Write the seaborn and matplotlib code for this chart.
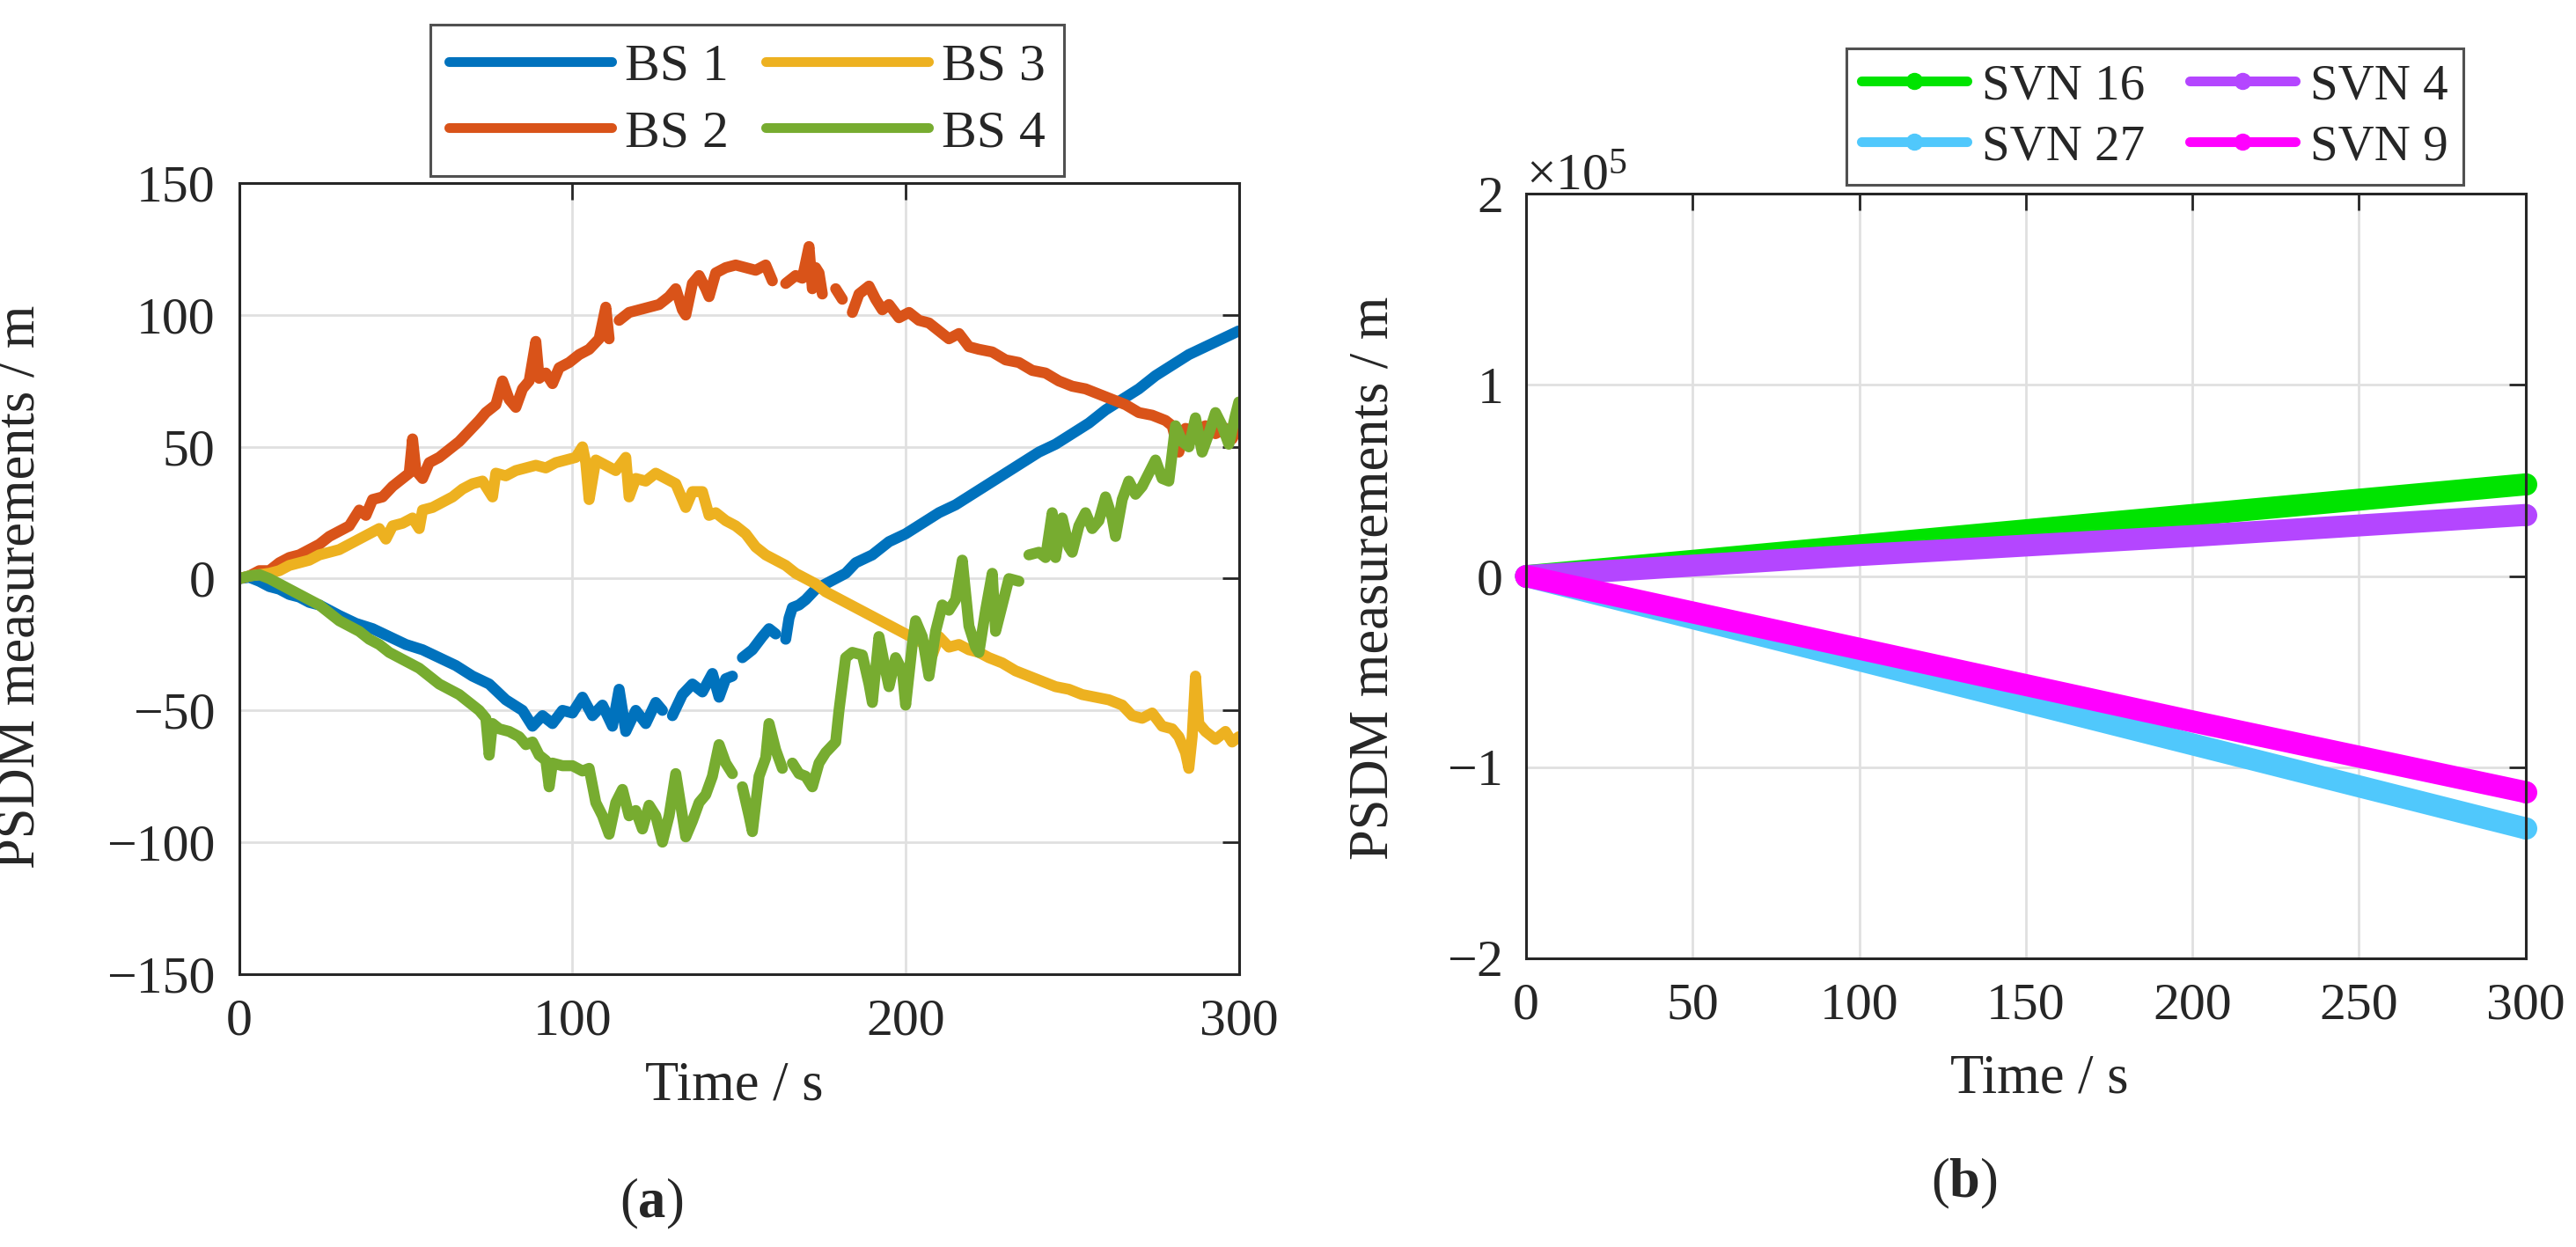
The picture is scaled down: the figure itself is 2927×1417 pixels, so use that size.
import numpy as np
import pandas as pd
import seaborn as sns
import matplotlib.pyplot as plt
from matplotlib.lines import Line2D
from matplotlib.ticker import ScalarFormatter

nan = np.nan

# (a) PSDM measurements of the base stations, (time s, value m), nan = gap
bs1 = [(0, 0), (3, 0.5), (6, -1), (9, -3), (12, -4), (15, -6), (18, -7), (21, -9), (24, -10),
       (27, -12), (30, -14), (35, -17), (40, -19), (45, -22), (50, -25), (55, -27), (60, -30),
       (65, -33), (70, -37), (75, -40), (80, -46), (85, -50), (88, -56), (91, -52), (94, -55),
       (97, -50), (100, -51), (103, -45), (106, -52), (109, -48), (112, -56), (114, -42),
       (116, -58), (119, -50), (122, -55), (125, -47), (127, -50), (128, nan), (130, -52),
       (133, -44), (136, -40), (139, -43), (142, -36), (144, -45), (146, -38), (148, -37),
       (149.5, nan), (151, -30), (154, -27), (157, -22), (159, -19), (161, -21), (162, nan),
       (164, -23), (165, -15), (166, -11), (168, -10), (170, -8), (173, -4), (176, -2),
       (179, 0), (182, 2), (185, 6), (190, 9), (195, 14), (200, 17), (205, 21), (210, 25),
       (215, 28), (220, 32), (225, 36), (230, 40), (235, 44), (240, 48), (245, 51), (250, 55),
       (255, 59), (260, 64), (265, 68), (270, 72), (275, 77), (280, 81), (285, 85), (290, 88),
       (295, 91), (300, 94)]

bs2 = [(0, 0), (3, 1), (6, 3), (9, 3), (12, 6), (15, 8), (18, 9), (21, 11), (24, 13), (27, 16),
       (30, 18), (33, 20), (36, 26), (38, 24), (40, 30), (43, 31), (46, 35), (49, 38), (51, 40),
       (52, 53), (53, 41), (55, 38), (57, 44), (60, 46), (63, 49), (66, 52), (69, 56), (72, 60),
       (74, 63), (77, 66), (79, 75), (81, 68), (83, 65), (85, 72), (87, 75), (89, 90), (90, 76),
       (92, 78), (94, 74), (96, 80), (99, 82), (102, 85), (105, 87), (108, 91), (110, 103),
       (111, 91), (112, nan), (114, 98), (117, 101), (120, 102), (123, 103), (126, 104),
       (129, 107), (131, 110), (133, 102), (134, 100), (136, 112), (138, 115), (140, 110),
       (141, 107), (143, 116), (146, 118), (149, 119), (152, 118), (155, 117), (158, 119),
       (160, 113), (161.5, nan), (164, 112), (167, 115), (169, 114), (171, 126), (172, 110),
       (173, 118), (174, 116), (175, 108), (177, nan), (179, 110), (181, 106), (182, nan),
       (184, 101), (186, 108), (189, 111), (191, 106), (193, 102), (195, 104), (198, 99),
       (201, 101), (204, 98), (207, 97), (210, 94), (213, 91), (216, 93), (219, 88), (222, 87),
       (226, 86), (230, 83), (234, 82), (238, 79), (242, 78), (246, 75), (250, 73), (254, 72),
       (258, 70), (262, 68), (266, 66), (270, 63), (274, 62), (278, 60), (280, 58), (282, 48),
       (284, 57), (287, 56), (290, 58), (293, 55), (296, 57), (298, 53), (300, 58)]

bs3 = [(0, 0), (3, 1), (6, 1.5), (9, 2), (12, 3), (15, 5), (18, 6), (21, 7), (24, 9), (27, 10),
       (30, 11), (33, 13), (36, 15), (39, 17), (42, 19), (44, 15), (46, 20), (49, 21), (52, 23),
       (54, 19), (55, 26), (58, 27), (61, 29), (64, 31), (67, 34), (70, 36), (73, 37), (76, 31),
       (77, 40), (80, 39), (83, 41), (86, 42), (89, 43), (92, 42), (95, 44), (98, 45), (101, 46),
       (103, 50), (104, 44), (105, 30), (107, 45), (110, 43), (113, 41), (116, 46), (117, 31),
       (119, 38), (122, 37), (125, 40), (128, 38), (131, 36), (134, 27), (136, 33), (139, 33),
       (141, 24), (143, 25), (146, 22), (149, 20), (152, 17), (155, 12), (158, 9), (161, 7),
       (164, 5), (167, 2), (170, 0), (173, -2), (176, -5), (179, -7), (182, -9), (185, -11),
       (188, -13), (191, -15), (194, -17), (197, -19), (200, -21), (203, -23), (206, -25),
       (208, -29), (210, -22), (213, -26), (216, -25), (219, -27), (222, -28), (225, -30),
       (229, -32), (233, -35), (237, -37), (241, -39), (245, -41), (249, -42), (253, -44),
       (257, -45), (261, -46), (265, -48), (268, -52), (271, -53), (274, -51), (277, -56),
       (280, -57), (282, -60), (284, -66), (285, -72), (286, -60), (287, -37), (288, -55),
       (290, -58), (293, -61), (296, -58), (298, -62), (300, -60)]

bs4 = [(0, 0), (3, 1), (6, 1.5), (9, 0), (12, -2), (15, -4), (18, -6), (21, -8), (24, -10),
       (27, -13), (30, -16), (33, -18), (36, -20), (39, -23), (42, -25), (45, -28), (48, -30),
       (51, -32), (54, -34), (57, -37), (60, -40), (63, -42), (66, -44), (69, -47), (72, -50),
       (74, -53), (75, -67), (76, -55), (78, -57), (81, -58), (84, -60), (86, -63), (88, -62),
       (90, -67), (92, -69), (93, -79), (94, -70), (97, -71), (100, -71), (103, -73), (105, -72),
       (107, -85), (109, -90), (111, -97), (113, -85), (115, -80), (117, -90), (119, -88),
       (121, -95), (123, -86), (125, -90), (127, -100), (129, -90), (131, -74), (133, -90),
       (134, -98), (136, -92), (138, -85), (140, -82), (142, -75), (144, -63), (146, -70),
       (148, -74), (149, nan), (151, -79), (153, -90), (154, -96), (156, -75), (158, -68),
       (159, -55), (161, -65), (163, -72), (164, nan), (166, -70), (168, -74), (170, -75),
       (172, -79), (174, -70), (176, -66), (179, -62), (180, -50), (182, -30), (184, -28),
       (187, -29), (189, -40), (190, -47), (192, -22), (194, -35), (195, -41), (197, -30),
       (199, -35), (200, -48), (202, -25), (203, -16), (205, -22), (207, -37), (209, -20),
       (211, -10), (213, -12), (215, -8), (217, 7), (219, -18), (221, -26), (222, -28),
       (224, -12), (226, 2), (227, -20), (229, -10), (231, 0), (234, -1), (235.5, nan), (237, 9),
       (240, 10), (242, 8), (244, 25), (245, 8), (247, 23), (249, 12), (250, 10), (252, 20),
       (254, 25), (256, 19), (258, 22), (260, 31), (262, 23), (263, 16), (265, 30), (267, 37),
       (269, 32), (271, 35), (273, 40), (275, 45), (277, 38), (279, 37), (281, 58), (283, 52),
       (285, 50), (287, 61), (289, 48), (291, 55), (293, 63), (295, 58), (297, 51), (299, 62),
       (300, 67)]

# (b) PSDM measurements of the satellites
t_svn = [0, 100, 200, 300]
svn16 = [0, 16000, 32000, 48000]
svn27 = [0, -44000, -88000, -132000]
svn4 = [0, 11000, 21000, 32000]
svn9 = [0, -38000, -76000, -113000]

bs_names = ["BS 1", "BS 2", "BS 3", "BS 4"]
bs_colors = ["#0072BD", "#D95319", "#EDB120", "#77AC30"]
svn_names = ["SVN 16", "SVN 27", "SVN 4", "SVN 9"]
svn_colors = ["#00E400", "#50C8FC", "#B446FF", "#FF00FF"]

sns.set_theme(style="white")
plt.rcParams["font.family"] = ["Liberation Serif", "DejaVu Serif"]
plt.rcParams["mathtext.fontset"] = "custom"
plt.rcParams["mathtext.rm"] = "Liberation Serif"
plt.rcParams["mathtext.bf"] = "Liberation Serif:bold"
plt.rcParams["axes.unicode_minus"] = True

# build long tables, each gap starts a new unit so seaborn breaks the line
frames = []
for name, pts in zip(bs_names, [bs1, bs2, bs3, bs4]):
    d = pd.DataFrame(pts, columns=["t", "v"])
    d["unit"] = name + "_" + d["v"].isna().cumsum().astype(str)
    d["series"] = name
    frames.append(d.dropna())
df_a = pd.concat(frames, ignore_index=True)

df_b = pd.DataFrame({
    "t": t_svn * 4,
    "v": svn16 + svn27 + svn4 + svn9,
    "series": np.repeat(svn_names, len(t_svn)),
})

fig = plt.figure(figsize=(29.27, 14.17), dpi=100)
ax1 = fig.add_axes([0.0929, 0.219, 0.388, 0.634])
ax2 = fig.add_axes([0.5924, 0.2315, 0.388, 0.613])

sns.lineplot(data=df_a, x="t", y="v", hue="series", units="unit", estimator=None,
             hue_order=bs_names, palette=dict(zip(bs_names, bs_colors)),
             lw=9, sort=False, legend=False, ax=ax1)

sns.lineplot(data=df_b, x="t", y="v", hue="series", hue_order=svn_names,
             palette=dict(zip(svn_names, svn_colors)), lw=18, marker="o", ms=18, mew=0,
             markevery=[0, -1], solid_capstyle="round", clip_on=False, legend=False, ax=ax2)

dark = "#262626"
for ax in (ax1, ax2):
    ax.set_xlim(0, 300)
    ax.grid(True, color="#e0e0e0", lw=2)
    ax.set_axisbelow(True)
    ax.tick_params(direction="in", length=14, width=2, top=True, right=True,
                   labelsize=43, colors=dark, pad=20)
    for s in ax.spines.values():
        s.set_linewidth(2.2)
        s.set_color(dark)
    ax.set_xlabel("Time / s", fontsize=45, color=dark)
    ax.set_ylabel("PSDM measurements / m", fontsize=45, color=dark)

ax1.set_ylim(-150, 150)
ax1.set_xticks([0, 100, 200, 300])
ax1.set_yticks(np.arange(-150, 151, 50))
ax1.yaxis.set_label_coords(-0.193, 0.49)
ax1.xaxis.set_label_coords(0.495, -0.11)

ax2.set_ylim(-200000, 200000)
ax2.set_xticks(np.arange(0, 301, 50))
ax2.set_yticks(np.arange(-200000, 200001, 100000))
fmt = ScalarFormatter(useMathText=True)
fmt.set_powerlimits((0, 0))
ax2.yaxis.set_major_formatter(fmt)
ax2.yaxis.get_offset_text().set_fontsize(43)
ax2.yaxis.get_offset_text().set_color(dark)
ax2.yaxis.set_label_coords(-0.126, 0.497)
ax2.xaxis.set_label_coords(0.514, -0.125)

h1 = [Line2D([], [], color=c, lw=8) for c in bs_colors]
leg1 = ax1.legend(h1, bs_names, ncol=2, loc="lower center", bbox_to_anchor=(0.508, 1.009),
                  fontsize=43, handlelength=3.1, handletextpad=0.25, columnspacing=0.7,
                  labelspacing=0.35, borderpad=0.35, frameon=True, fancybox=False,
                  edgecolor=dark, borderaxespad=0)
leg1.get_frame().set_linewidth(2.2)

h2 = [Line2D([], [], color=c, lw=8, marker="o", ms=13) for c in svn_colors]
leg2 = ax2.legend(h2, svn_names, ncol=2, loc="lower center", bbox_to_anchor=(0.629, 1.0115),
                  fontsize=41, handlelength=2.1, handletextpad=0.3, columnspacing=0.9,
                  labelspacing=0.3, borderpad=0.3, frameon=True, fancybox=False,
                  edgecolor=dark, borderaxespad=0)
leg2.get_frame().set_linewidth(2.2)

fig.text(740 / 2927, 1 - 1368 / 1417, r"($\mathbf{a}$)", fontsize=45, ha="center", va="center")
fig.text(2232 / 2927, 1 - 1345 / 1417, r"($\mathbf{b}$)", fontsize=45, ha="center", va="center")

fig.savefig("out.png", dpi=100)
